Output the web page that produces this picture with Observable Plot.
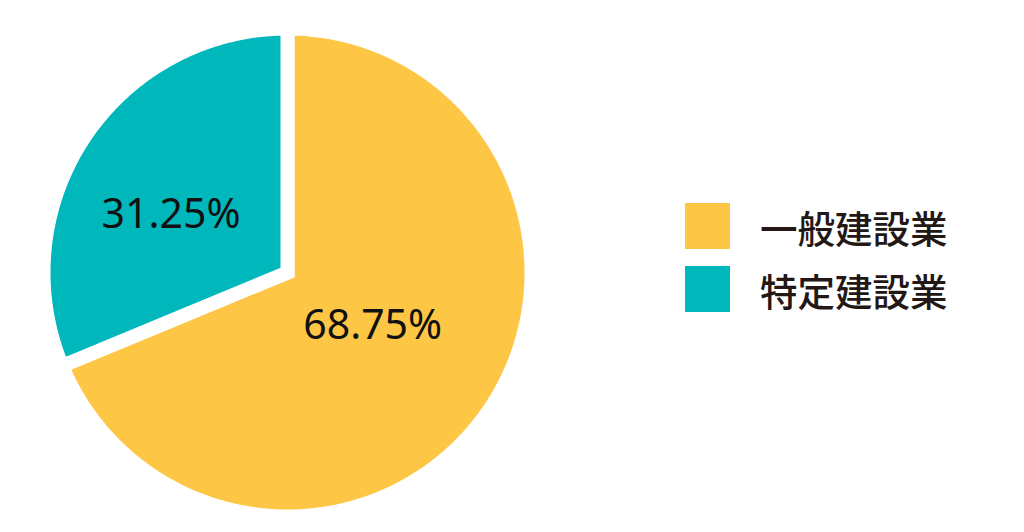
<!DOCTYPE html>
<html><head><meta charset="utf-8">
<script src="https://cdn.jsdelivr.net/npm/d3@7"></script>
<script src="https://cdn.jsdelivr.net/npm/@observablehq/plot@0.6"></script>
<style>
body{margin:0;background:#fff;}
#wrap{position:relative;width:1024px;height:532px;overflow:hidden;}
#legend{position:absolute;left:685px;top:203px;font-family:"Noto Sans CJK JP","Noto Sans",sans-serif;font-weight:500;font-size:37.5px;color:#231815;}
.row{display:flex;align-items:center;height:46px;margin-bottom:17px;}
.sw{width:45px;height:46px;margin-right:30px;}
</style>
</head><body><div id="wrap"><div id="chart"></div><div id="legend"></div></div>
<script>
const categories = ["一般建設業", "特定建設業"];
const values = [68.75, 31.25];
const labels = ["68.75%", "31.25%"];
const colors = ["#FDC645", "#00B8BC"];

const W = 1024, H = 532;
const cx = 287, cy = 272, R = 244;
const labelRadius = [0.42, 0.5];
const labelShift = [[0, -4], [-15, 10]];

const total = d3.sum(values);
let acc = 0;
const slices = values.map((v, i) => {
  const a0 = acc / total * 2 * Math.PI; acc += v;
  const a1 = acc / total * 2 * Math.PI;
  const am = (a0 + a1) / 2;
  return {cat: categories[i], a0, a1, label: labels[i],
          lx: labelRadius[i] * Math.sin(am), ly: labelRadius[i] * Math.cos(am)};
});
const pts = [];
for (const s of slices) {
  // start mid-way along the first radius so the centre becomes a mitred join
  pts.push({cat: s.cat, x: 0.5 * Math.sin(s.a0), y: 0.5 * Math.cos(s.a0)});
  const n = 240;
  for (let k = 0; k <= n; k++) {
    const a = s.a0 + (s.a1 - s.a0) * k / n;
    pts.push({cat: s.cat, x: Math.sin(a), y: Math.cos(a)});
  }
  pts.push({cat: s.cat, x: 0, y: 0});
  pts.push({cat: s.cat, x: 0.5 * Math.sin(s.a0), y: 0.5 * Math.cos(s.a0)});
}

const chart = Plot.plot({
  width: W, height: H,
  margin: 0,
  x: {domain: [-cx / R, (W - cx) / R], axis: null},
  y: {domain: [-(H - cy) / R, cy / R], axis: null},
  color: {domain: categories, range: colors},
  marks: [
    Plot.line(pts, {x: "x", y: "y", z: "cat", fill: "cat", stroke: "white", strokeWidth: 14, strokeLinejoin: "miter", strokeMiterlimit: 10}),
    ...slices.map((s, i) => Plot.text([s], {x: "lx", y: "ly", text: "label", fontSize: 41, fontFamily: "Noto Sans", fill: "#111", dx: labelShift[i][0], dy: labelShift[i][1]}))
  ]
});
document.getElementById("chart").appendChild(chart);

const legend = document.getElementById("legend");
categories.forEach((c, i) => {
  const row = document.createElement("div"); row.className = "row";
  const sw = document.createElement("div"); sw.className = "sw"; sw.style.background = colors[i];
  const t = document.createElement("span"); t.textContent = c;
  row.appendChild(sw); row.appendChild(t); legend.appendChild(row);
});
</script>
</body></html>
